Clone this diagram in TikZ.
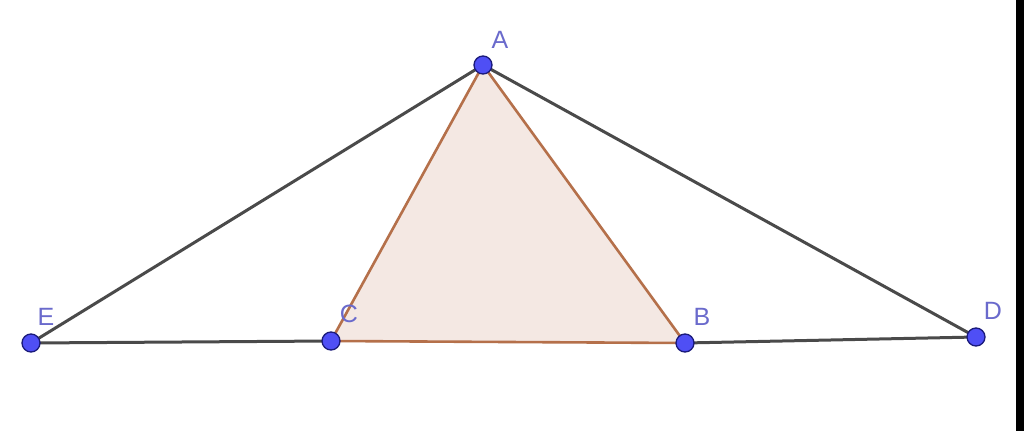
\documentclass[tikz,border=0pt]{standalone}
\usepackage{fontspec}
\setmainfont{Liberation Sans}
\definecolor{seg}{HTML}{4A4A4A}
\definecolor{tri}{HTML}{B5704A}
\definecolor{trifill}{HTML}{F4E8E3}
\definecolor{pt}{HTML}{4F4FF5}
\definecolor{ptb}{HTML}{1A1A7A}
\definecolor{lbl}{HTML}{6A6ACC}
\begin{document}
\begin{tikzpicture}[x=1pt,y=-1pt,
  segline/.style={draw=seg,line width=3pt},
  triline/.style={draw=tri,line width=2.6pt,line join=round},
  ptdot/.style={circle,fill=pt,draw=ptb,line width=1.3pt,minimum size=18pt,inner sep=0pt},
  lab/.style={text=lbl,font=\fontsize{25}{25}\selectfont,inner sep=0pt}]
\useasboundingbox (0,0) rectangle (1024,431);
\fill[white] (0,0) rectangle (1024,431);
\fill[black] (1016,0) rectangle (1024,431);
\coordinate (A) at (483,65);
\coordinate (E) at (31,343);
\coordinate (C) at (331,341);
\coordinate (B) at (685,343);
\coordinate (D) at (976,337);
\fill[trifill] (A) -- (C) -- (B) -- cycle;
\draw[segline] (A) -- (E);
\draw[segline] (A) -- (D);
\draw[segline] (E) -- (C);
\draw[segline] (B) -- (D);
\draw[triline] (A) -- (C) -- (B) -- cycle;
\node[ptdot] (nA) at (A) {};
\node[ptdot] (nE) at (E) {};
\node[ptdot] (nC) at (C) {};
\node[ptdot] (nB) at (B) {};
\node[ptdot] (nD) at (D) {};
\node[lab] (lA) at (500,40) {A};
\node[lab] (lE) at (46,317) {E};
\node[lab] (lC) at (349,314) {C};
\node[lab] (lB) at (702,317) {B};
\node[lab] (lD) at (993,311) {D};
\end{tikzpicture}
\end{document}
